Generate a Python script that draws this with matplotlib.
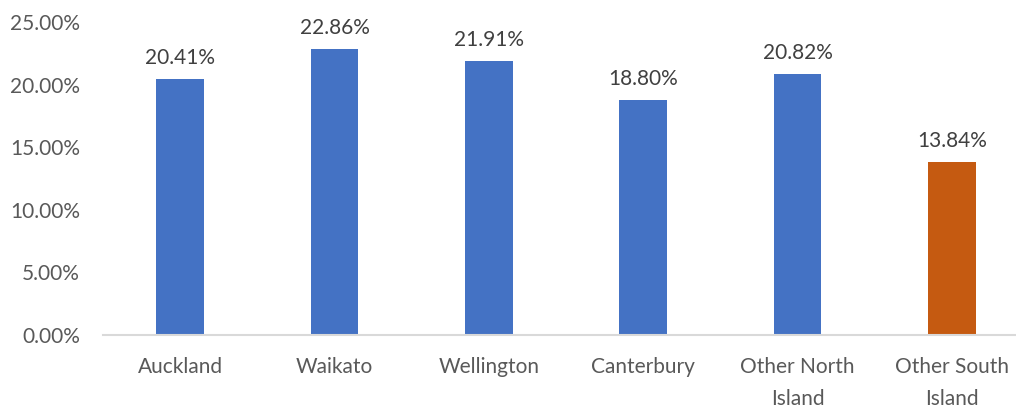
import numpy as np
import matplotlib.pyplot as plt

plt.rcParams['font.family'] = ['Lato', 'DejaVu Sans']

regions = ["Auckland", "Waikato", "Wellington", "Canterbury", "Other North\nIsland", "Other South\nIsland"]
shares = [20.41, 22.86, 21.91, 18.80, 20.82, 13.84]
bar_colors = ["#4472C4", "#4472C4", "#4472C4", "#4472C4", "#4472C4", "#C55A11"]

W, H = 1016, 407
fig = plt.figure(figsize=(W / 100, H / 100), dpi=100)
# axes spans past the right edge, like the cropped original
ax = fig.add_axes([103 / W, (H - 335) / H, (1029 - 103) / W, (335 - 22) / H])

x = np.arange(len(regions))
bars = ax.bar(x, shares, width=0.31, color=bar_colors, zorder=2)

for xi, v in zip(x, shares):
    ax.annotate("%.2f%%" % v, (xi, v), xytext=(0, 8), textcoords="offset points",
                ha="center", va="bottom", fontsize=15, color="#404040")

ax.set_xlim(-0.5, 5.5)
ax.set_ylim(0, 25)
ax.set_yticks(np.arange(0, 26, 5))
ax.set_yticklabels(["%.2f%%" % t for t in np.arange(0, 26, 5)])
ax.set_xticks(x)
ax.set_xticklabels(regions, linespacing=1.73)

for s in ["top", "right", "left"]:
    ax.spines[s].set_visible(False)
ax.spines["bottom"].set_color("#D9D9D9")
ax.spines["bottom"].set_linewidth(1.5)
ax.tick_params(axis="both", length=0, labelsize=15, labelcolor="#595959")
ax.tick_params(axis="y", pad=16.5)
ax.tick_params(axis="x", pad=16)
for lbl in ax.get_xticklabels():
    lbl.set_verticalalignment("top")

fig.savefig("out.png", dpi=100)
